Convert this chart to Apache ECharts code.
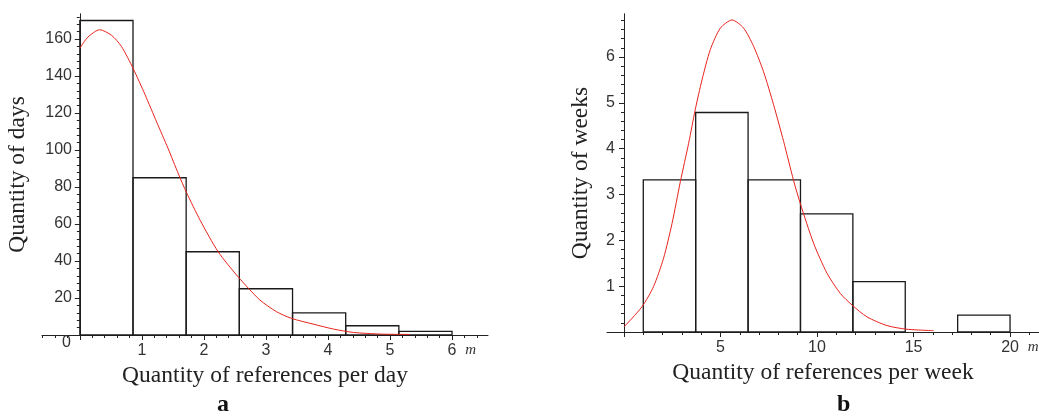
<!DOCTYPE html>
<html>
<head>
<meta charset="utf-8">
<script src="https://cdn.jsdelivr.net/npm/echarts@6/dist/echarts.min.js"></script>
<style>
html,body{margin:0;padding:0;background:#fff;}
#main{width:1039px;height:416px;}
</style>
</head>
<body>
<div id="main"></div>
<script>
// panel a: references per day
var dayEdges = [0, 0.857, 1.714, 2.571, 3.429, 4.286, 5.143, 6.0];
var dayHeights = [170, 85, 45, 25, 12, 5, 2];
var dayCurveX = [0, 0.13, 0.32, 0.51, 0.67, 0.86, 1.05, 1.24, 1.42, 1.59, 1.72, 1.94, 2.23, 2.55, 2.9, 3.17, 3.41, 3.76, 4.09, 4.41, 4.84, 5.32];
var dayCurveY = [155, 161, 165, 162, 156, 144, 130, 115, 101, 87, 77, 62, 45, 31.5, 19, 12.6, 9, 5.9, 3.2, 1.4, 0.5, 0.3];
var dayXLabels = [1, 2, 3, 4, 5, 6];
var dayYLabels = [20, 40, 60, 80, 100, 120, 140, 160];

// panel b: references per week
var weekEdges = [1, 3.714, 6.429, 9.143, 11.857, 14.571, 17.286, 20];
var weekHeights = [3.32, 4.79, 3.32, 2.58, 1.1, 0, 0.37];
var weekCurveX = [0, 0.93, 1.53, 2.05, 2.49, 2.92, 3.35, 3.69, 4.04, 4.47, 4.99, 5.6, 6.2, 6.72, 7.23, 7.75, 8.27, 8.79, 9.13, 9.82, 10.52, 11.21, 11.81, 12.59, 13.63, 14.66, 16.04];
var weekCurveY = [0.11, 0.55, 0.99, 1.61, 2.37, 3.28, 4.12, 4.85, 5.5, 6.16, 6.63, 6.81, 6.63, 6.23, 5.68, 4.96, 4.16, 3.3, 2.81, 1.94, 1.28, 0.84, 0.59, 0.33, 0.14, 0.06, 0.03];
var weekXLabels = [5, 10, 15, 20];
var weekYLabels = [1, 2, 3, 4, 5, 6];

function steps(from, to, step, skipEvery) {
	var out = [];
	var n = Math.round((to - from) / step);
	for (var i = 0; i <= n; i++) {
		var v = +(from + i * step).toFixed(4);
		if (skipEvery && Math.abs(v / skipEvery - Math.round(v / skipEvery)) < 1e-6) continue;
		out.push(v);
	}
	return out;
}

function histData(edges, heights) {
	var d = [];
	for (var i = 0; i < heights.length; i++) {
		if (heights[i] > 0) d.push([edges[i], edges[i + 1], heights[i]]);
	}
	return d;
}

function zip(xs, ys) {
	var d = [];
	for (var i = 0; i < xs.length; i++) d.push([xs[i], ys[i]]);
	return d;
}

function renderBin(params, api) {
	var p0 = api.coord([api.value(0), api.value(2)]);
	var p1 = api.coord([api.value(1), 0]);
	return {
		type: 'rect',
		shape: {x: p0[0], y: p0[1], width: p1[0] - p0[0], height: p1[1] - p0[1]},
		style: {fill: 'none', stroke: '#1a1a1a', lineWidth: 1.3}
	};
}

var labelFont = {color: '#333', fontFamily: 'Liberation Sans', fontSize: 16};
var nameFont = {color: '#222', fontFamily: 'Liberation Serif', fontSize: 23.5};
var mFont = {fontFamily: 'Liberation Serif', fontStyle: 'italic', fontSize: 15, color: '#333'};
var capFont = {fontFamily: 'Liberation Serif', fontSize: 24, fontWeight: 'bold', color: '#111'};

var chart = echarts.init(document.getElementById('main'), null, {renderer: 'canvas'});
chart.setOption({
	backgroundColor: '#ffffff',
	animation: false,
	title: [
		{text: 'a', left: 212, top: 388, textStyle: capFont},
		{text: 'b', left: 832, top: 388, textStyle: capFont}
	],
	grid: [
		{left: 42, top: 14, width: 446, height: 321, containLabel: false, outerBoundsMode: 'none'},
		{left: 607, top: 14, width: 432, height: 318, containLabel: false, outerBoundsMode: 'none'}
	],
	xAxis: [
		{
			type: 'value', gridIndex: 0, position: 'bottom', min: -0.61, max: 6.58,
			axisLine: {show: true, onZero: false, lineStyle: {color: '#222'}},
			axisTick: {length: 5, customValues: [0, 1, 2, 3, 4, 5, 6], lineStyle: {color: '#222'}},
			axisLabel: Object.assign({customValues: dayXLabels, margin: 8}, labelFont),
			splitLine: {show: false},
			name: 'Quantity of references per day', nameLocation: 'middle', nameGap: 25,
			nameTextStyle: nameFont
		},
		{
			type: 'value', gridIndex: 0, position: 'bottom', min: -0.61, max: 6.58,
			axisLine: {show: false, onZero: false},
			axisTick: {length: 3, customValues: steps(-0.6, 6.4, 0.2, 1), lineStyle: {color: '#222'}},
			axisLabel: Object.assign({customValues: [6.3], margin: 8, formatter: function () { return 'm'; }}, mFont),
			splitLine: {show: false}
		},
		{
			type: 'value', gridIndex: 1, position: 'bottom', min: -0.88, max: 21.5,
			axisLine: {show: true, onZero: false, lineStyle: {color: '#222'}},
			axisTick: {length: 5, customValues: [0, 5, 10, 15, 20], lineStyle: {color: '#222'}},
			axisLabel: Object.assign({customValues: weekXLabels, margin: 8}, labelFont),
			splitLine: {show: false},
			name: 'Quantity of references per week', nameLocation: 'middle', nameGap: 27,
			nameTextStyle: nameFont
		},
		{
			type: 'value', gridIndex: 1, position: 'bottom', min: -0.88, max: 21.5,
			axisLine: {show: false, onZero: false},
			axisTick: {length: 3, customValues: steps(1, 21, 1, 5), lineStyle: {color: '#222'}},
			axisLabel: Object.assign({customValues: [21.2], margin: 8, formatter: function () { return 'm'; }}, mFont),
			splitLine: {show: false}
		}
	],
	yAxis: [
		{
			type: 'value', gridIndex: 0, position: 'left', min: 0, max: 173.5,
			axisLine: {show: true, onZero: true, onZeroAxisIndex: 0, lineStyle: {color: '#222'}},
			axisTick: {length: 5, customValues: [0].concat(dayYLabels), lineStyle: {color: '#222'}},
			axisLabel: Object.assign({customValues: dayYLabels, margin: -30}, labelFont),
			splitLine: {show: false},
			name: 'Quantity of days', nameLocation: 'middle', nameGap: 12, nameMoveOverlap: false,
			nameTextStyle: nameFont
		},
		{
			type: 'value', gridIndex: 0, position: 'left', min: 0, max: 173.5,
			axisLine: {show: true, onZero: true, onZeroAxisIndex: 0, lineStyle: {color: '#222'}},
			axisTick: {length: 3, customValues: steps(4, 172, 4, 20), lineStyle: {color: '#222'}},
			axisLabel: Object.assign({customValues: [0], margin: -29, verticalAlign: 'top'}, labelFont),
			splitLine: {show: false}
		},
		{
			type: 'value', gridIndex: 1, position: 'left', min: 0, max: 6.94,
			axisLine: {show: true, onZero: true, onZeroAxisIndex: 2, lineStyle: {color: '#222'}},
			axisTick: {length: 5, customValues: weekYLabels, lineStyle: {color: '#222'}},
			axisLabel: Object.assign({customValues: weekYLabels, margin: -8}, labelFont),
			splitLine: {show: false},
			name: 'Quantity of weeks', nameLocation: 'middle', nameGap: 14, nameMoveOverlap: false,
			nameTextStyle: nameFont
		},
		{
			type: 'value', gridIndex: 1, position: 'left', min: 0, max: 6.94,
			axisLine: {show: true, onZero: true, onZeroAxisIndex: 2, lineStyle: {color: '#222'}},
			axisTick: {length: 3, customValues: steps(0.2, 6.8, 0.2, 1), lineStyle: {color: '#222'}},
			axisLabel: {show: false},
			splitLine: {show: false}
		}
	],
	series: [
		{
			type: 'custom', xAxisIndex: 0, yAxisIndex: 0,
			renderItem: renderBin, encode: {x: [0, 1], y: 2},
			data: histData(dayEdges, dayHeights), z: 2
		},
		{
			type: 'line', xAxisIndex: 0, yAxisIndex: 0, smooth: 0.25, symbol: 'none',
			lineStyle: {color: '#e8231c', width: 1}, data: zip(dayCurveX, dayCurveY), z: 3
		},
		{
			type: 'custom', xAxisIndex: 2, yAxisIndex: 2,
			renderItem: renderBin, encode: {x: [0, 1], y: 2},
			data: histData(weekEdges, weekHeights), z: 2
		},
		{
			type: 'line', xAxisIndex: 2, yAxisIndex: 2, smooth: 0.25, symbol: 'none',
			lineStyle: {color: '#e8231c', width: 1}, data: zip(weekCurveX, weekCurveY), z: 3
		}
	]
});
</script>
</body>
</html>
